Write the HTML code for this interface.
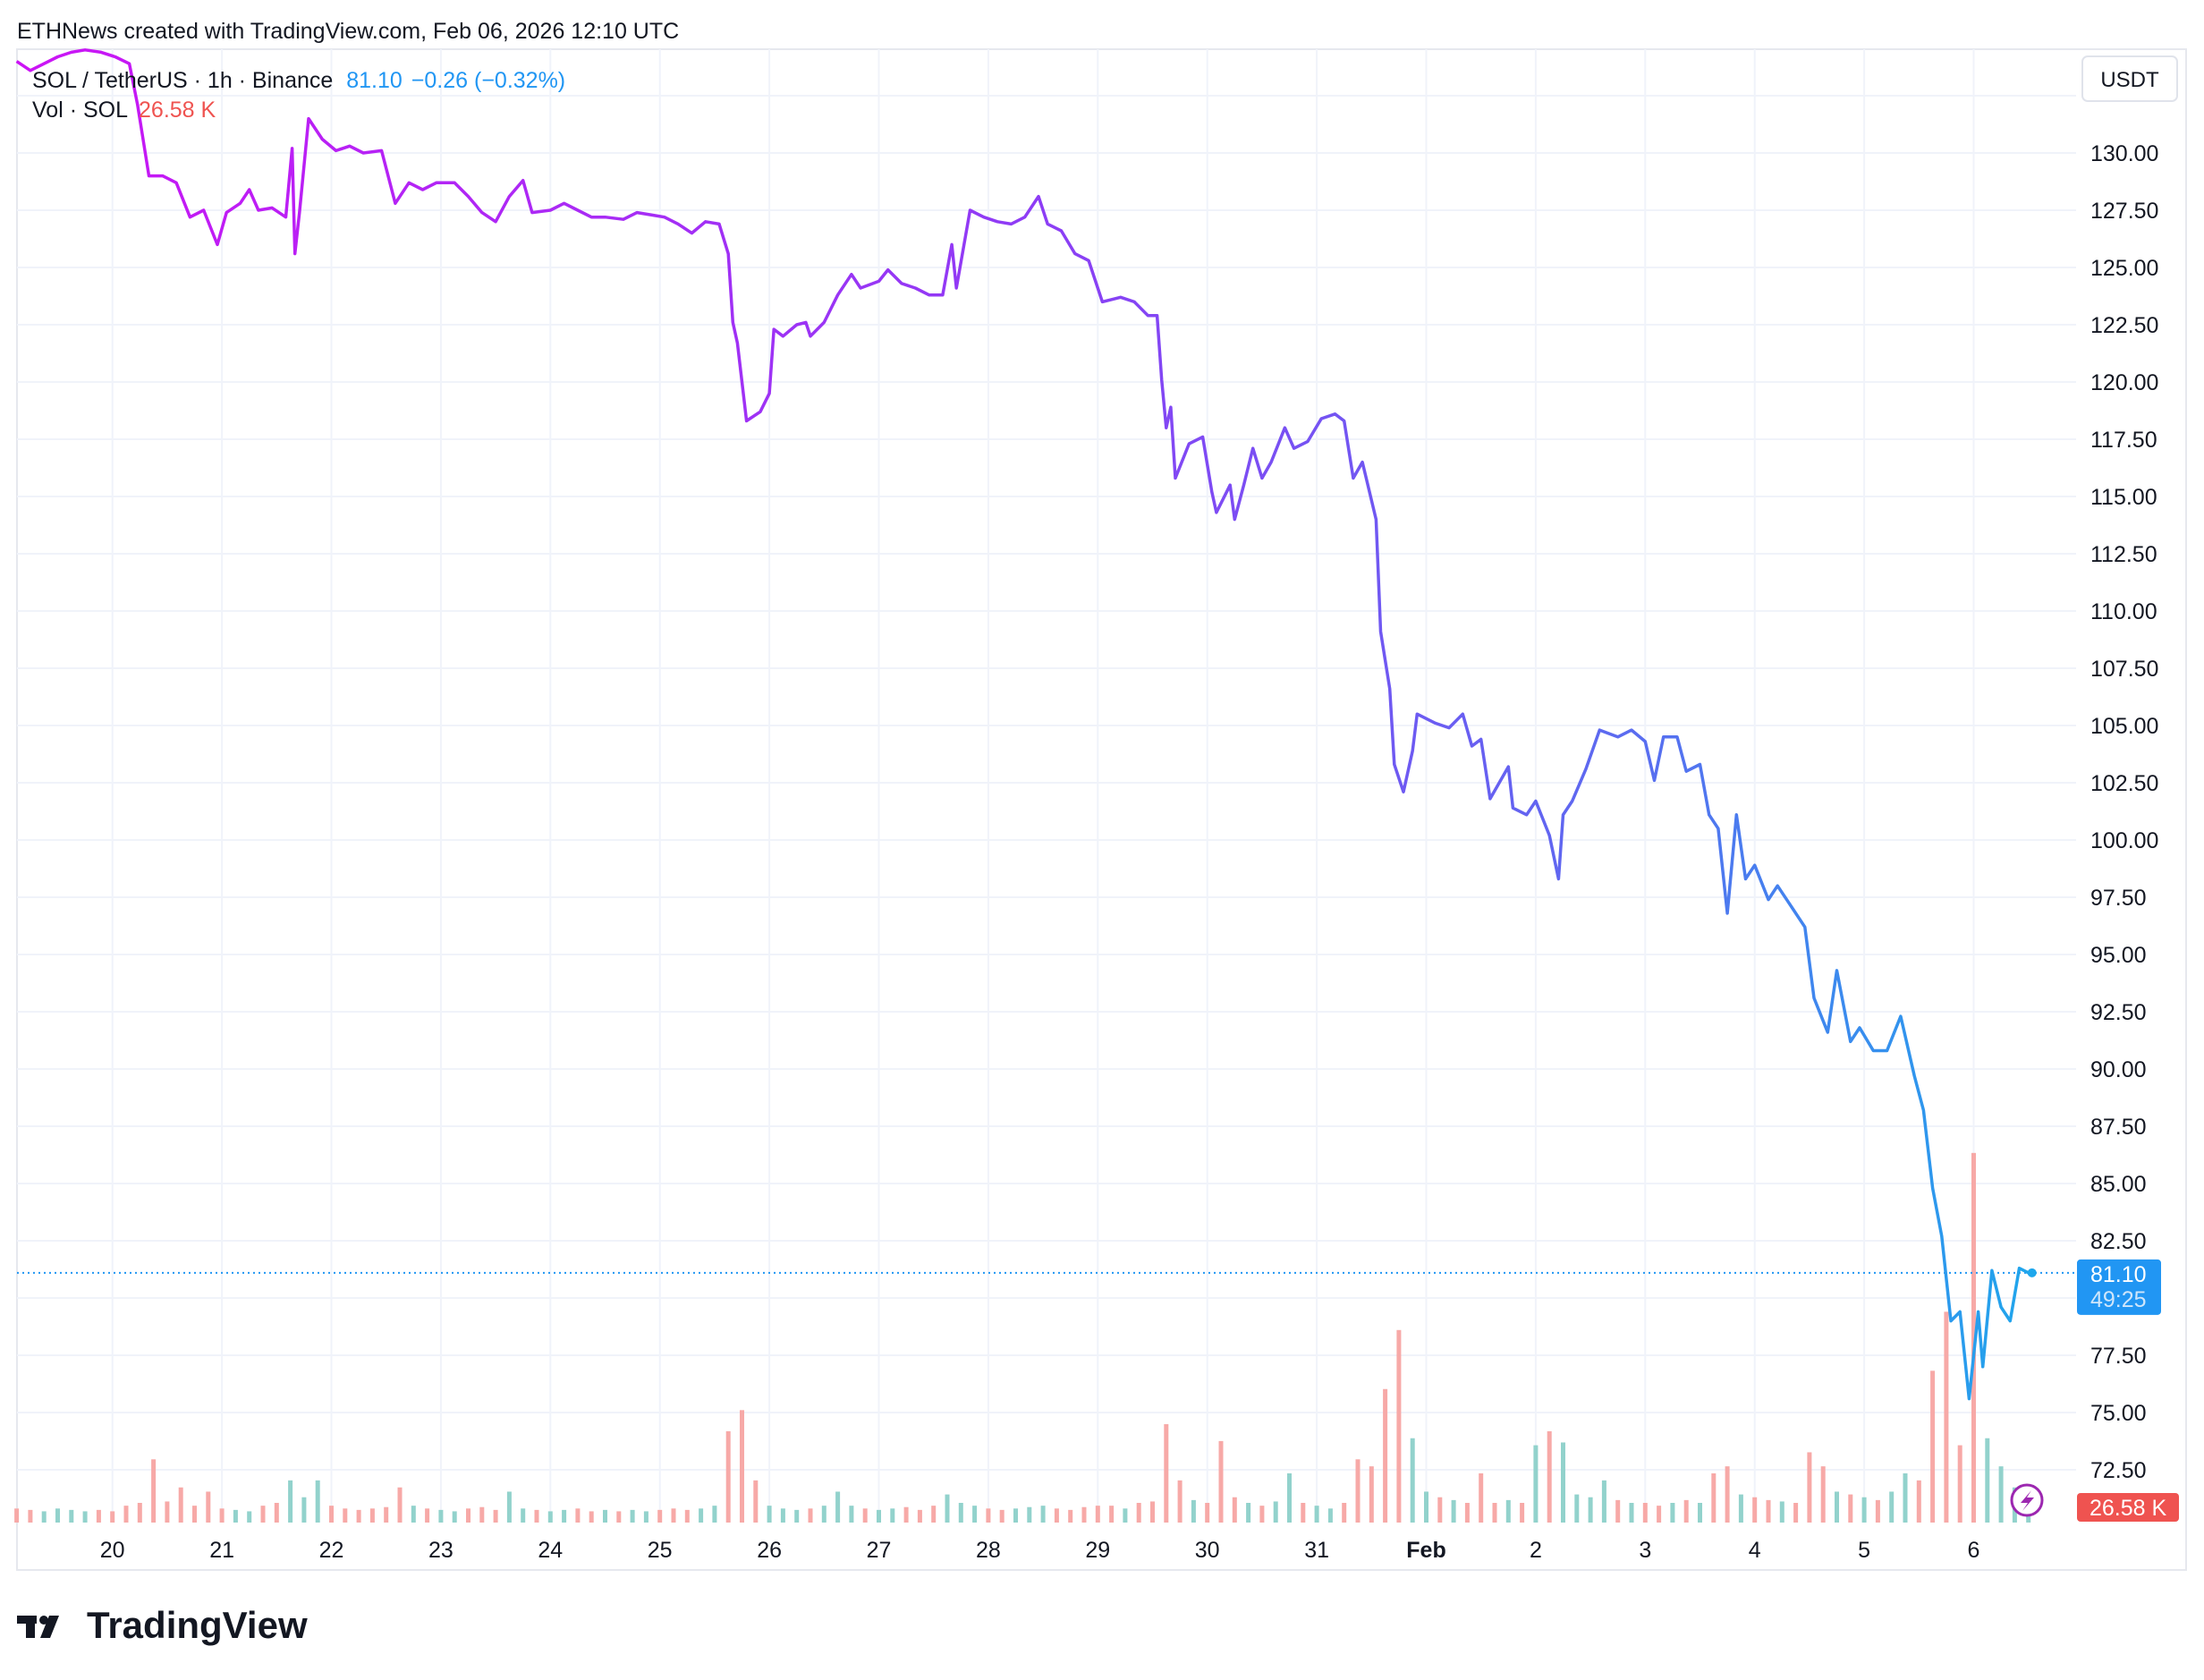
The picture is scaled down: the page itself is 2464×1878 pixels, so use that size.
<!DOCTYPE html>
<html><head><meta charset="utf-8"><style>
html,body{margin:0;padding:0;background:#fff;}
svg{display:block;font-family:"Liberation Sans",sans-serif;}
</style></head><body>
<svg id="chart" width="2464" height="1878" viewBox="0 0 2464 1878" xmlns="http://www.w3.org/2000/svg">
<defs>
<linearGradient id="lineGrad" gradientUnits="userSpaceOnUse" x1="19" y1="0" x2="2280" y2="0">
<stop offset="0" stop-color="#cc14f5"/><stop offset="0.5" stop-color="#8e3cf5"/><stop offset="0.8" stop-color="#5a6cf0"/><stop offset="1" stop-color="#1ea7ec"/>
</linearGradient>
</defs>
<text x="19" y="43" font-size="25" fill="#131722">ETHNews created with TradingView.com, Feb 06, 2026 12:10 UTC</text>
<rect x="19" y="55" width="2425" height="1700" fill="none" stroke="#e6e8ee" stroke-width="2"/>
<g id="grid"></g>
<g id="vols"></g>
<path id="line" fill="none" stroke="url(#lineGrad)" stroke-width="3.5" stroke-linejoin="round"/>
<g id="ylabels"></g>
<g id="xlabels"></g>
<text x="36" y="98" font-size="25" fill="#131722">SOL / TetherUS · 1h · Binance <tspan fill="#2196f3" dx="8">81.10</tspan><tspan fill="#2196f3" dx="10">−0.26 (−0.32%)</tspan></text>
<text x="36" y="131" font-size="25" fill="#131722">Vol · SOL <tspan fill="#ef5350" dx="6">26.58 K</tspan></text>
<rect x="2328" y="63" width="106" height="50" rx="6" fill="#fff" stroke="#e0e3eb" stroke-width="2"/>
<text x="2381" y="97" font-size="24" text-anchor="middle" fill="#131722">USDT</text>
<circle cx="2266" cy="1677" r="17" fill="#fff" stroke="#9c27b0" stroke-width="3"/>
<path d="M2271 1666 L2259 1680 L2267 1680 L2261 1689 L2274 1674 L2266 1674 Z" fill="#9c27b0"/>
<g>
<rect x="19" y="1806" width="22" height="9" fill="#131722"/>
<rect x="29" y="1806" width="10" height="25" fill="#131722"/>
<circle cx="49" cy="1811" r="5" fill="#131722"/>
<path d="M55 1806 L66 1806 L56 1831 L45 1831 Z" fill="#131722"/>
<text x="97" y="1831" font-size="42" font-weight="bold" fill="#131722">TradingView</text>
</g>
</svg>
<script>
const yTicks=[72.5,75,77.5,80,82.5,85,87.5,90,92.5,95,97.5,100,102.5,105,107.5,110,112.5,115,117.5,120,122.5,125,127.5,130];
const dayLabels=["20","21","22","23","24","25","26","27","28","29","30","31","Feb","2","3","4","5","6"];
const hours=[-21,-18,-15,-12,-9,-6,-2.5,0.6,3.7,5.5,8,11,14,17,20,23,25,28,30,32,35,38,39.4,40,41,43,46,49,52,55,59,62,65,68,71,75,78,81,84,87,90,92,96,99,102,105,108,112,115,118,121,124,127,130,133,135,136,137,139,142,144,145,147,150,152,153,156,159,162,164,168,170,173,176,179,182,184,185,188,191,194,197,200,203,205,208,211,214,217,221,224,227,229,230,231,232,233,236,239,241,242,245,246,248,250,252,254,257,259,262,265,268,270,272,274,277,278,280,281,283,285,286,290,293,296,298,300,302,306,307,310,312,315,317,318,320,323,326,330,333,336,338,340,343,345,348,350,352,354,356,358,360,363,365,368,371,373,376,378,381,383,386,389,392,395,397,399,401,403,405,407,409,410,412,414,416,418,420];
const prices=[134.0,133.6,133.9,134.2,134.4,134.5,134.4,134.2,133.9,132.1,129.0,129.0,128.7,127.2,127.5,126.0,127.4,127.8,128.4,127.5,127.6,127.2,130.2,125.6,127.4,131.5,130.6,130.1,130.3,130.0,130.1,127.8,128.7,128.4,128.7,128.7,128.1,127.4,127.0,128.1,128.8,127.4,127.5,127.8,127.5,127.2,127.2,127.1,127.4,127.3,127.2,126.9,126.5,127.0,126.9,125.6,122.6,121.7,118.3,118.7,119.5,122.3,122.0,122.5,122.6,122.0,122.6,123.8,124.7,124.1,124.4,124.9,124.3,124.1,123.8,123.8,126.0,124.1,127.5,127.2,127.0,126.9,127.2,128.1,126.9,126.6,125.6,125.3,123.5,123.7,123.5,122.9,122.9,120.1,118.0,118.9,115.8,117.3,117.6,115.2,114.3,115.5,114.0,115.5,117.1,115.8,116.5,118.0,117.1,117.4,118.4,118.6,118.3,115.8,116.5,114.0,109.1,106.6,103.3,102.1,103.9,105.5,105.1,104.9,105.5,104.1,104.4,101.8,103.2,101.4,101.1,101.7,100.2,98.3,101.1,101.7,103.1,104.8,104.5,104.8,104.3,102.6,104.5,104.5,103.0,103.3,101.1,100.5,96.8,101.1,98.3,98.9,97.4,98.0,97.1,96.2,93.1,91.6,94.3,91.2,91.8,90.8,90.8,92.3,89.7,88.2,84.8,82.7,79.0,79.4,75.6,79.4,77.0,81.2,79.6,79.0,81.3,81.1];
const volStart=-21, volStep=3;
const volumes=[10,9,8,10,9,8,9,8,12,14,45,15,25,12,22,10,9,8,12,14,30,18,30,12,10,9,10,11,25,12,10,9,8,10,11,9,22,10,9,8,9,10,8,9,8,9,8,9,10,9,10,12,65,80,30,12,10,9,10,12,22,12,10,9,10,11,9,12,20,14,12,10,9,10,11,12,10,9,11,12,12,10,14,15,70,30,16,14,58,18,14,12,15,35,14,12,10,14,45,40,95,137,60,22,18,16,14,35,14,16,14,55,65,57,20,18,30,16,14,14,12,14,16,14,35,40,20,18,16,15,14,50,40,22,20,18,16,22,35,30,108,150,55,263,60,40,25,12];
const yv=v=>171+(130-v)*25.6;
const xh=h=>125.7+h*5.1;
const NS="http://www.w3.org/2000/svg";
const plotL=19, plotR=2321, plotT=55, plotB=1702;
const FS='25';
const grid=document.getElementById('grid');
[...yTicks,132.5].forEach(v=>{const l=document.createElementNS(NS,'line');


l.setAttribute('x1',plotL);l.setAttribute('x2',plotR);l.setAttribute('y1',yv(v));l.setAttribute('y2',yv(v));l.setAttribute('stroke','#f0f3fa');l.setAttribute('stroke-width','2');grid.appendChild(l);});
dayLabels.forEach((d,i)=>{const x=xh(i*24);const l=document.createElementNS(NS,'line');


l.setAttribute('x1',x);l.setAttribute('x2',x);l.setAttribute('y1',plotT);l.setAttribute('y2',plotB);l.setAttribute('stroke','#f0f3fa');l.setAttribute('stroke-width','2');grid.appendChild(l);
const t=document.createElementNS(NS,'text');


t.setAttribute('x',x);t.setAttribute('y',1741);t.setAttribute('font-size',FS);t.setAttribute('text-anchor','middle');t.setAttribute('fill','#131722');if(d==='Feb')t.setAttribute('font-weight','bold');t.textContent=d;document.getElementById('xlabels').appendChild(t);});
const yl=document.getElementById('ylabels');
yTicks.forEach(v=>{if(v===80)return;const t=document.createElementNS(NS,'text');


t.setAttribute('x',2337);t.setAttribute('y',yv(v)+9);t.setAttribute('font-size',FS);t.setAttribute('fill','#131722');t.textContent=v.toFixed(2);yl.appendChild(t);});
function priceAt(h){for(let i=1;i<hours.length;i++){if(hours[i]>=h){const a=hours[i-1],b=hours[i];const f=(h-a)/(b-a||1);return prices[i-1]+(prices[i]-prices[i-1])*f;}}return prices[prices.length-1];}
const vg=document.getElementById('vols');
volumes.forEach((v,k)=>{const h=volStart+k*volStep;const x=xh(h);const hh=v*1.571;const up=priceAt(h)>=priceAt(h-3);
const r=document.createElementNS(NS,'rect');


r.setAttribute('x',x-2.5);r.setAttribute('y',plotB-hh);r.setAttribute('width',5);r.setAttribute('height',hh);r.setAttribute('fill',up?'#92d2cc':'#f7a9a7');vg.appendChild(r);});
let d='';hours.forEach((h,i)=>{d+=(i?'L':'M')+xh(h).toFixed(1)+' '+yv(prices[i]).toFixed(1)+' ';});
document.getElementById('line').setAttribute('d',d);
const svg=document.getElementById('chart');
const last=prices[prices.length-1], ly=yv(last);
const dl=document.createElementNS(NS,'line');


dl.setAttribute('x1',plotL);dl.setAttribute('x2',plotR);dl.setAttribute('y1',ly);dl.setAttribute('y2',ly);dl.setAttribute('stroke','#2196f3');dl.setAttribute('stroke-width','2');dl.setAttribute('stroke-dasharray','2 4');svg.insertBefore(dl,document.getElementById('line'));
const dot=document.createElementNS(NS,'circle');


dot.setAttribute('cx',xh(hours[hours.length-1])+4);dot.setAttribute('cy',ly);dot.setAttribute('r',5);dot.setAttribute('fill','#1ea7ec');svg.appendChild(dot);
const pb=document.createElementNS(NS,'rect');


pb.setAttribute('x',2322);pb.setAttribute('y',ly-15);pb.setAttribute('width',94);pb.setAttribute('height',62);pb.setAttribute('rx',4);pb.setAttribute('fill','#2196f3');svg.appendChild(pb);
const t1=document.createElementNS(NS,'text');


t1.setAttribute('x',2337);t1.setAttribute('y',ly+10);t1.setAttribute('font-size',FS);t1.setAttribute('fill','#fff');t1.textContent=last.toFixed(2);svg.appendChild(t1);
const t2=document.createElementNS(NS,'text');


t2.setAttribute('x',2337);t2.setAttribute('y',ly+38);t2.setAttribute('font-size',FS);t2.setAttribute('fill','#cfe6fb');t2.textContent='49:25';svg.appendChild(t2);
const vb=document.createElementNS(NS,'rect');


vb.setAttribute('x',2322);vb.setAttribute('y',1669);vb.setAttribute('width',114);vb.setAttribute('height',32);vb.setAttribute('rx',4);vb.setAttribute('fill','#ef5350');svg.appendChild(vb);
const vt=document.createElementNS(NS,'text');


vt.setAttribute('x',2336);vt.setAttribute('y',1694);vt.setAttribute('font-size',FS);vt.setAttribute('fill','#fff');vt.textContent='26.58 K';svg.appendChild(vt);
</script>
</body></html>
